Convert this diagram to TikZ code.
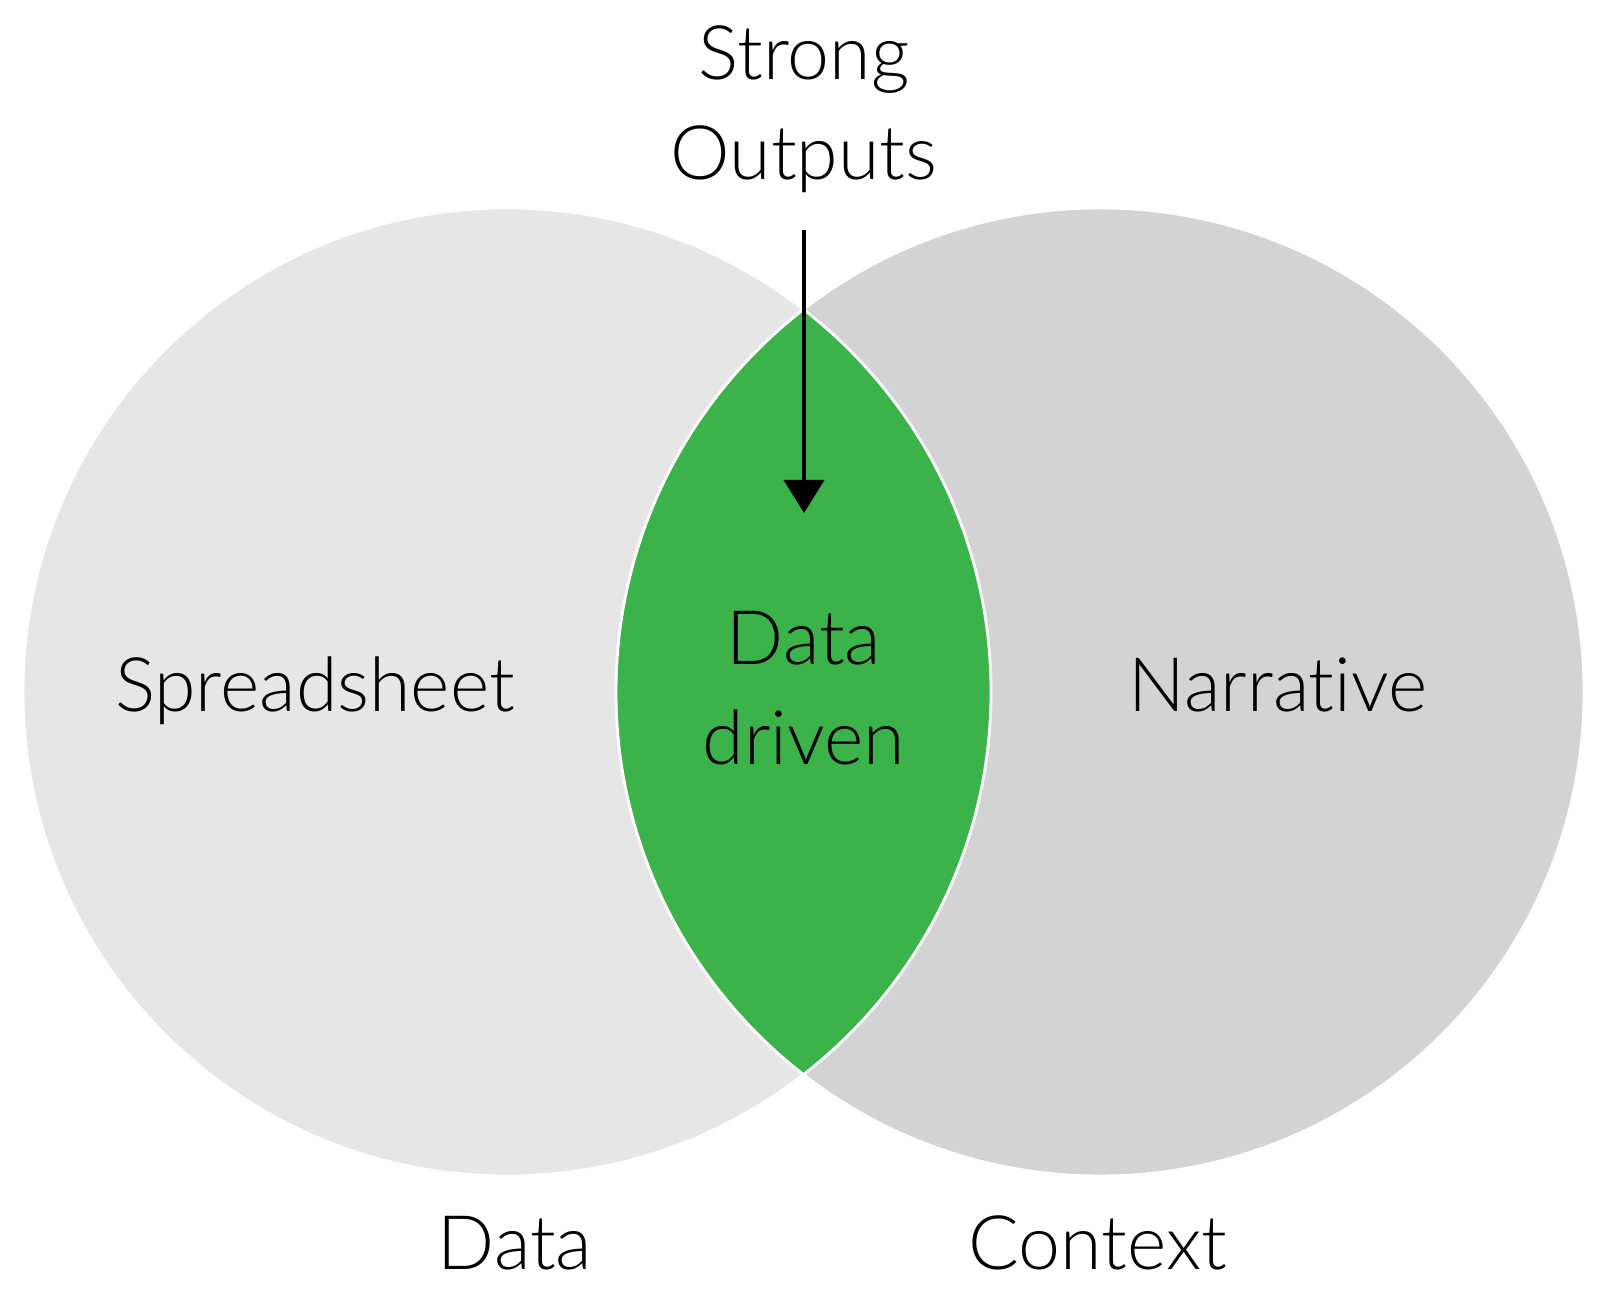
\documentclass[tikz,border=0pt]{standalone}
\usepackage{fontspec}
\setmainfont{Lato}[UprightFont={* Light},Ligatures={NoCommon}]
\usetikzlibrary{arrows.meta}

\definecolor{setA}{HTML}{E6E6E6}
\definecolor{setB}{HTML}{D3D3D3}
\definecolor{lens}{HTML}{3BB34A}

\begin{document}
\begin{tikzpicture}[
  lbl/.style={anchor=base,inner sep=0pt,font=\fontsize{21.4}{25}\selectfont},
  ptr/.style={-{Triangle[width=4mm,length=3.3mm]},line width=1.2pt}
]
  \useasboundingbox (0,0) rectangle (16,13.06);
  % the two sets and their overlap
  \fill[setA] (5.07,6.14) circle (4.84);
  \fill[setB] (11.00,6.14) circle (4.84);
  \begin{scope}
    \clip (5.07,6.14) circle (4.84);
    \fill[lens] (11.00,6.14) circle (4.84);
  \end{scope}
  \draw[white,line width=0.8pt] (5.07,6.14) circle (4.84);
  \draw[white,line width=0.8pt] (11.00,6.14) circle (4.84);

  \node[lbl] (sheet) at (3.15,5.94)  {Spreadsheet};
  \node[lbl] (narr)  at (12.78,5.94) {Narrative};
  \node[lbl] (dd1)   at (8.04,6.41)  {Data};
  \node[lbl] (dd2)   at (8.04,5.41)  {driven};
  \node[lbl] (so1)   at (8.04,12.26) {Strong};
  \node[lbl] (so2)   at (8.04,11.26) {Outputs};
  \node[lbl] (data)  at (5.15,0.36)  {Data};
  \node[lbl] (ctx)   at (10.98,0.36) {Context};

  \coordinate (tail) at (8.04,10.76);
  \coordinate (tip)  at (8.04,7.93);
  \draw[ptr] (tail) -- (tip);
\end{tikzpicture}
\end{document}
